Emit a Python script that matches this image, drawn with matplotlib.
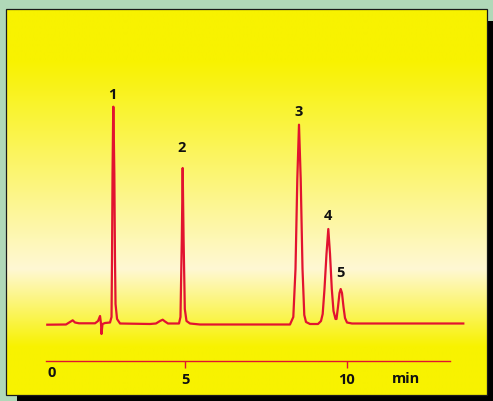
import numpy as np
import matplotlib
matplotlib.use('Agg')
import matplotlib.pyplot as plt
from matplotlib.patches import Rectangle

plt.rcParams['font.family'] = ['Open Sans', 'DejaVu Sans']

# chromatogram trace (time in min, signal above baseline)
trace_t = [0.725, 1.304, 1.428, 1.512, 1.583, 1.707, 2.204, 2.297, 2.359, 2.390,
           2.404, 2.435, 2.513, 2.668, 2.715, 2.730, 2.746, 2.764, 2.771, 2.778,
           2.802, 2.822, 2.839, 2.886, 2.979, 3.907, 4.092, 4.216, 4.300, 4.371,
           4.464, 4.805, 4.851, 4.892, 4.919, 4.947, 4.985, 5.037, 5.146, 5.455,
           8.243, 8.346, 8.414, 8.470, 8.522, 8.575, 8.631, 8.686, 8.739, 8.863,
           9.111, 9.204, 9.256, 9.312, 9.374, 9.430, 9.483, 9.538, 9.591, 9.653,
           9.684, 9.730, 9.777, 9.814, 9.854, 9.901, 9.947, 10.009, 10.164, 13.612]
trace_h = [-0.7, -0.5, 2.0, 3.7, 1.5, 0.7, 0.7, 3.0, 8.0, 0.0,
           -10.0, 0.0, 1.0, 1.5, 7.0, 65.0, 150.0, 205.0, 217.3, 205.0,
           150.0, 65.0, 20.0, 5.0, 0.5, 0.0, 0.5, 3.0, 4.3, 2.5,
           0.5, 0.5, 7.0, 85.0, 156.0, 85.0, 15.0, 3.0, 0.5, -0.5,
           -0.5, 7.0, 55.0, 145.0, 199.3, 145.0, 55.0, 9.0, 2.0, 0.0,
           0.0, 3.0, 10.0, 35.0, 70.0, 95.0, 70.0, 35.0, 13.0, 5.0,
           5.0, 17.0, 31.0, 35.0, 31.0, 17.0, 6.0, 1.5, 0.5, 0.5]

peak_names = ['1', '2', '3', '4', '5']
peak_times = [2.771, 4.919, 8.522, 9.430, 9.814]
peak_heights = [217.3, 156.0, 199.3, 95.0, 35.0]
label_lift = [12.7, 20.7, 14.0, 14.0, 17.3]   # px above apex

tick_pos = [5, 10]
tick_labels = ['5', '10']

RED = '#e2132f'
GREEN = '#b0d8b8'

fig = plt.figure(figsize=(4.93, 4.02), dpi=100)
fig.patch.set_facecolor(GREEN)

# background panel in pixel coordinates
bg = fig.add_axes([0, 0, 1, 1])
bg.axis('off')
bg.add_patch(Rectangle((17, 22), 481, 386, facecolor='black', edgecolor='none',
                       zorder=1))

stops_y = [10, 62, 270, 348, 396]
stops_c = np.array([[248, 242, 0], [248, 242, 0], [255, 248, 212],
                    [248, 242, 0], [248, 242, 0]]) / 255.0
rows = np.arange(10, 397)
grad = np.stack([np.interp(rows, stops_y, stops_c[:, k]) for k in range(3)], axis=1)
grad = np.repeat(grad[:, None, :], 2, axis=1)
bg.imshow(grad, extent=(6, 487, 396, 10), aspect='auto', origin='upper',
          interpolation='bilinear', zorder=2)
bg.add_patch(Rectangle((6, 10), 481, 386, facecolor='none', edgecolor='#1a1a1a',
                       linewidth=0.9, zorder=3))
bg.set_xlim(0, 493)
bg.set_ylim(402, 0)

# data axes
ax = fig.add_axes([0, 0, 1, 1])
ax.patch.set_alpha(0)
ax.set_xlim(-0.740, 14.532)
ax.set_ylim(-77, 325)

ax.plot(trace_t, trace_h, color=RED, linewidth=1.6, solid_joinstyle='round')

for name, t, h, lift in zip(peak_names, peak_times, peak_heights, label_lift):
    ax.text(t - 0.02, h + lift, name, ha='center', va='center',
            fontsize=10.5, fontweight='bold', color='#111111')

for s in ['top', 'left', 'right']:
    ax.spines[s].set_visible(False)
ax.spines['bottom'].set_position(('data', -37))
ax.spines['bottom'].set_bounds(0.685, 13.20)
ax.spines['bottom'].set_color(RED)
ax.spines['bottom'].set_linewidth(1.0)
ax.set_yticks([])
ax.set_xticks(tick_pos)
ax.set_xticklabels(tick_labels)
ax.tick_params(axis='x', direction='out', length=5, width=1, color=RED,
               labelsize=10.5, pad=3, labelcolor='#111111')
for lab in ax.get_xticklabels():
    lab.set_fontweight('bold')

ax.text(0.861, -48.3, '0', ha='center', va='center', fontsize=10.5,
        fontweight='bold', color='#111111')
ax.text(11.834, -54, 'min', ha='center', va='center', fontsize=10.5,
        fontweight='bold', color='#111111')

fig.savefig('out.png', dpi=100, facecolor=GREEN)
